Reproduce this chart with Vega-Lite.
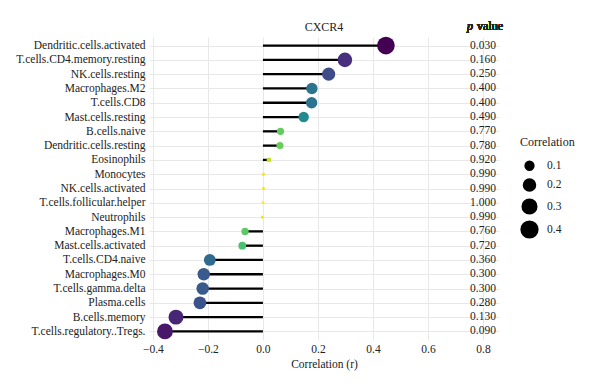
{
  "$schema": "https://vega.github.io/schema/vega-lite/v6.json",
  "autosize": "none",
  "width": 350,
  "height": 303,
  "padding": {"left": 149, "top": 37, "right": 101, "bottom": 51},
  "background": "white",
  "title": {"text": "CXCR4", "anchor": "middle", "fontSize": 12, "font": "Liberation Serif", "fontWeight": "normal", "color": "#222", "offset": -14},
  "data": {"values": [
    {"name": "Dendritic.cells.activated", "r": 0.447, "absr": 0.447, "p": 0.03},
    {"name": "T.cells.CD4.memory.resting", "r": 0.298, "absr": 0.298, "p": 0.16},
    {"name": "NK.cells.resting", "r": 0.239, "absr": 0.239, "p": 0.25},
    {"name": "Macrophages.M2", "r": 0.178, "absr": 0.178, "p": 0.4},
    {"name": "T.cells.CD8", "r": 0.177, "absr": 0.177, "p": 0.4},
    {"name": "Mast.cells.resting", "r": 0.148, "absr": 0.148, "p": 0.49},
    {"name": "B.cells.naive", "r": 0.064, "absr": 0.064, "p": 0.77},
    {"name": "Dendritic.cells.resting", "r": 0.062, "absr": 0.062, "p": 0.78},
    {"name": "Eosinophils", "r": 0.022, "absr": 0.022, "p": 0.92},
    {"name": "Monocytes", "r": 0.002, "absr": 0.002, "p": 0.99},
    {"name": "NK.cells.activated", "r": 0.002, "absr": 0.002, "p": 0.99},
    {"name": "T.cells.follicular.helper", "r": 0.0005, "absr": 0.0005, "p": 1.0},
    {"name": "Neutrophils", "r": -0.002, "absr": 0.002, "p": 0.99},
    {"name": "Macrophages.M1", "r": -0.065, "absr": 0.065, "p": 0.76},
    {"name": "Mast.cells.activated", "r": -0.075, "absr": 0.075, "p": 0.72},
    {"name": "T.cells.CD4.naive", "r": -0.193, "absr": 0.193, "p": 0.36},
    {"name": "Macrophages.M0", "r": -0.215, "absr": 0.215, "p": 0.3},
    {"name": "T.cells.gamma.delta", "r": -0.219, "absr": 0.219, "p": 0.3},
    {"name": "Plasma.cells", "r": -0.229, "absr": 0.229, "p": 0.28},
    {"name": "B.cells.memory", "r": -0.316, "absr": 0.316, "p": 0.13},
    {"name": "T.cells.regulatory..Tregs.", "r": -0.356, "absr": 0.356, "p": 0.09}
  ]},
  "encoding": {
    "y": {"field": "name", "type": "nominal", "sort": null,
      "scale": {"type": "point", "padding": 0.6},
      "axis": {"title": null, "ticks": false, "domain": false, "labelPadding": 4, "grid": true, "gridColor": "#e8e8e8", "gridWidth": 1, "labelFontSize": 11.5, "labelColor": "#222", "labelFont": "Liberation Serif"}}
  },
  "layer": [
    {
      "mark": {"type": "rule", "color": "black", "strokeWidth": 2.3},
      "encoding": {
        "x": {"field": "r", "type": "quantitative",
          "scale": {"domain": [-0.414, 0.858], "nice": false, "zero": false},
          "axis": {"title": "Correlation (r)", "values": [-0.4, -0.3, -0.2, -0.1, 0, 0.1, 0.2, 0.3, 0.4, 0.5, 0.6, 0.7, 0.8],
            "labelExpr": "abs(round(datum.value*10)) % 2 == 0 ? format(datum.value, '.1f') : ''",
            "ticks": false, "domain": false, "grid": true, "gridColor": "#e8e8e8", "gridWidth": 1,
            "labelPadding": 3, "labelFontSize": 11.5, "labelColor": "#222", "labelFont": "Liberation Serif",
            "titleFontSize": 11.5, "titleFont": "Liberation Serif", "titleFontWeight": "normal", "titleColor": "#222", "titlePadding": 4, "labelFlush": false}},
        "x2": {"datum": 0}
      }
    },
    {
      "mark": {"type": "circle", "opacity": 1},
      "encoding": {
        "x": {"field": "r", "type": "quantitative"},
        "size": {"field": "absr", "type": "quantitative",
          "scale": {"domain": [0, 0.45], "range": [9, 314]},
          "legend": {"title": "Correlation", "values": [0.1, 0.2, 0.3, 0.4], "orient": "none", "legendX": 371, "legendY": 100,
            "symbolFillColor": "black", "symbolStrokeColor": "black", "symbolOpacity": 1, "symbolType": "circle",
            "titleFont": "Liberation Serif", "titleFontSize": 12, "titleFontWeight": "normal", "titleColor": "#222",
            "labelFont": "Liberation Serif", "labelFontSize": 11.5, "labelColor": "#222", "rowPadding": 1, "labelOffset": 8, "titlePadding": 11}},
        "color": {"field": "p", "type": "quantitative", "scale": {"scheme": "viridis", "domain": [0.03, 1.0]}, "legend": null}
      }
    },
    {
      "mark": {"type": "text", "font": "Liberation Serif", "fontSize": 11.5, "color": "#222", "align": "center", "baseline": "middle"},
      "encoding": {
        "x": {"datum": 0.8},
        "text": {"field": "p", "type": "quantitative", "format": ".3f"}
      }
    },
    {
      "mark": {"type": "text", "font": "Liberation Serif", "fontSize": 12, "fontStyle": "italic", "color": "#222", "align": "left", "baseline": "middle", "dx": -16, "dy": -20, "text": "p"},
      "encoding": {
        "x": {"datum": 0.8},
        "y": {"datum": "Dendritic.cells.activated"}
      }
    },
    {
      "mark": {"type": "text", "font": "Liberation Serif", "fontSize": 12, "color": "#222", "align": "left", "baseline": "middle", "dx": -6, "dy": -20, "text": "value"},
      "encoding": {
        "x": {"datum": 0.8},
        "y": {"datum": "Dendritic.cells.activated"}
      }
    }
  ],
  "config": {"view": {"stroke": null}, "font": "Liberation Serif"}
}
